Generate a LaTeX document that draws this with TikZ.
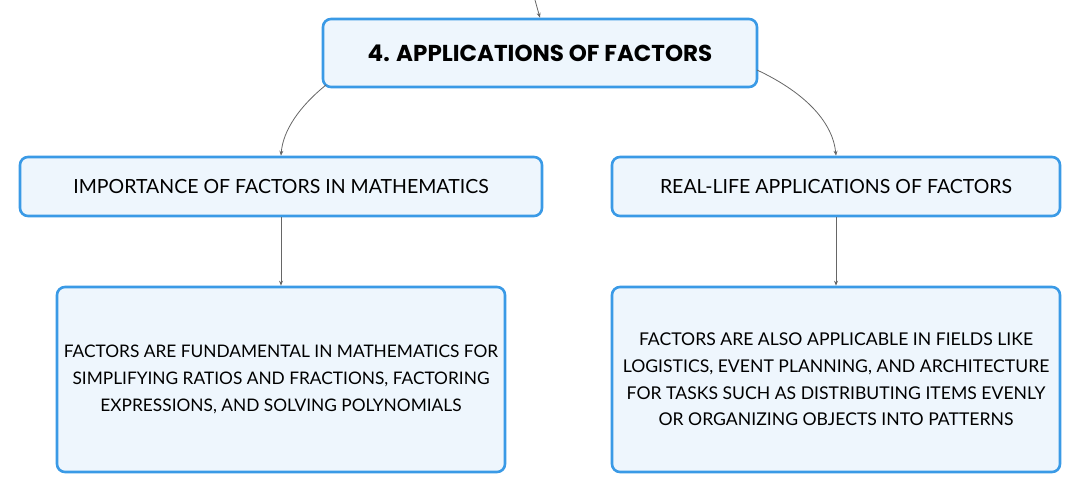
\documentclass[tikz,border=0pt]{standalone}
\usepackage{fontspec}
\setmainfont{Lato}
\newfontfamily\titlefont{Poppins}
\usetikzlibrary{arrows.meta}
\definecolor{boxborder}{HTML}{3A9AE6}
\definecolor{boxfill}{HTML}{EEF6FD}
\definecolor{linkgray}{HTML}{666666}
\tikzset{
  box/.style={draw=boxborder, line width=2.6pt, fill=boxfill, rounded corners=8pt, align=center, inner sep=0pt},
  link/.style={draw=linkgray, line width=0.8pt, -{Stealth[length=5pt,width=4pt]}},
}
\begin{document}
\begin{tikzpicture}[x=1pt,y=-1pt]
\useasboundingbox (0,0) rectangle (1081,494);
\node[box, minimum width=434pt, minimum height=68pt, font=\titlefont\bfseries\fontsize{23}{27}\selectfont] (top) at (540,53) {4. APPLICATIONS OF FACTORS};
\node[box, minimum width=522pt, minimum height=59pt, font=\fontsize{19.5}{23}\selectfont] (lm) at (281,186.5) {IMPORTANCE OF FACTORS IN MATHEMATICS};
\node[box, minimum width=448pt, minimum height=59pt, font=\fontsize{19.5}{23}\selectfont] (rm) at (836,186.5) {REAL-LIFE APPLICATIONS OF FACTORS};
\node[box, minimum width=448pt, minimum height=185pt, font=\fontsize{17.3}{26.7}\selectfont] (lb) at (281,379.5) {FACTORS ARE FUNDAMENTAL IN MATHEMATICS FOR\\SIMPLIFYING RATIOS AND FRACTIONS, FACTORING\\EXPRESSIONS, AND SOLVING POLYNOMIALS};
\node[box, minimum width=448pt, minimum height=185pt, font=\fontsize{17.6}{26.7}\selectfont] (rb) at (836,379.5) {FACTORS ARE ALSO APPLICABLE IN FIELDS LIKE\\LOGISTICS, EVENT PLANNING, AND ARCHITECTURE\\FOR TASKS SUCH AS DISTRIBUTING ITEMS EVENLY\\OR ORGANIZING OBJECTS INTO PATTERNS};
\coordinate (in) at (535,0);
\draw[link] (in) .. controls (537,8) .. (top.north);
\coordinate (tl) at (326,85);
\coordinate (tr) at (757,70);
\draw[link] (tl) .. controls (300,106) and (283,130) .. (lm.north);
\draw[link] (tr) .. controls (808,94) and (833,124) .. (rm.north);
\draw[link] (lm.south) -- (lb.north);
\draw[link] (rm.south) -- (rb.north);
\end{tikzpicture}
\end{document}
